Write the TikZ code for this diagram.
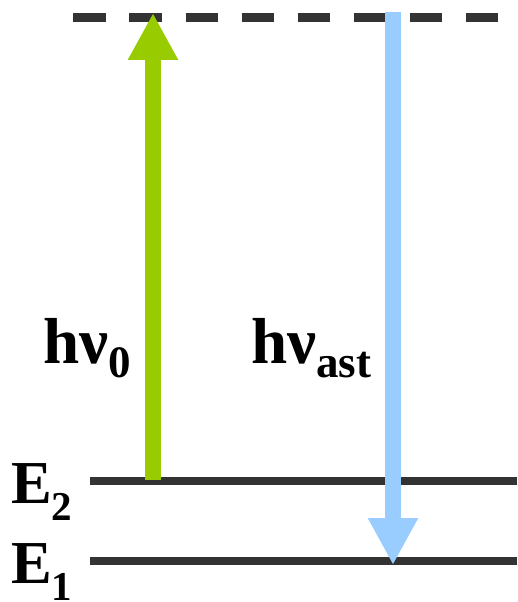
\documentclass[tikz,border=0pt]{standalone}
\usepackage{fontspec}
\setmainfont{Liberation Serif}
\usetikzlibrary{arrows.meta}
\definecolor{levelgray}{HTML}{333333}
\definecolor{pumpgreen}{HTML}{99CC00}
\definecolor{emitblue}{HTML}{99CCFF}
\tikzset{
  level/.style={draw=levelgray, line width=8pt},
  virtual/.style={draw=levelgray, line width=8.4pt, dash pattern=on 32.4pt off 23.7pt},
  photon/.style={line width=16pt, -{Triangle[length=47pt,width=47pt]}},
  lbl/.style={inner sep=0pt, anchor=base west, font=\bfseries}
}
\newcommand{\bigtxt}[2]{{\fontsize{#1}{#1}\selectfont #2}}
\begin{document}
\begin{tikzpicture}[x=1pt,y=-1pt]
\useasboundingbox (0,0) rectangle (517,602);
% levels
\coordinate (vL) at (73.3,17.5);
\coordinate (vR) at (497.7,17.5);
\coordinate (e2L) at (90,481);
\coordinate (e2R) at (517,481);
\coordinate (e1L) at (90,561);
\coordinate (e1R) at (517,561);
\draw[virtual] (vL) -- (vR);
\draw[level] (e2L) -- (e2R);
\draw[level] (e1L) -- (e1R);
% arrows
\coordinate (gS) at (153,480);
\coordinate (gE) at (153,13);
\coordinate (bS) at (393,12);
\coordinate (bE) at (393,565);
\draw[photon, draw=pumpgreen, fill=pumpgreen] (gS) -- (gE);
\draw[photon, draw=emitblue, fill=emitblue] (bS) -- (bE);
% labels
\node[lbl] (hv0) at (43,363) {\bigtxt{65pt}{hν}\raisebox{-14pt}{\bigtxt{45pt}{0}}};
\node[lbl] (hvast) at (251,363) {\bigtxt{65pt}{hν}\raisebox{-14pt}{\bigtxt{45pt}{ast}}};
\node[lbl] (E2) at (11,503) {\bigtxt{61pt}{E}\raisebox{-17pt}{\bigtxt{41pt}{2}}};
\node[lbl] (E1) at (11,583) {\bigtxt{61pt}{E}\raisebox{-17pt}{\bigtxt{41pt}{1}}};
\end{tikzpicture}
\end{document}
